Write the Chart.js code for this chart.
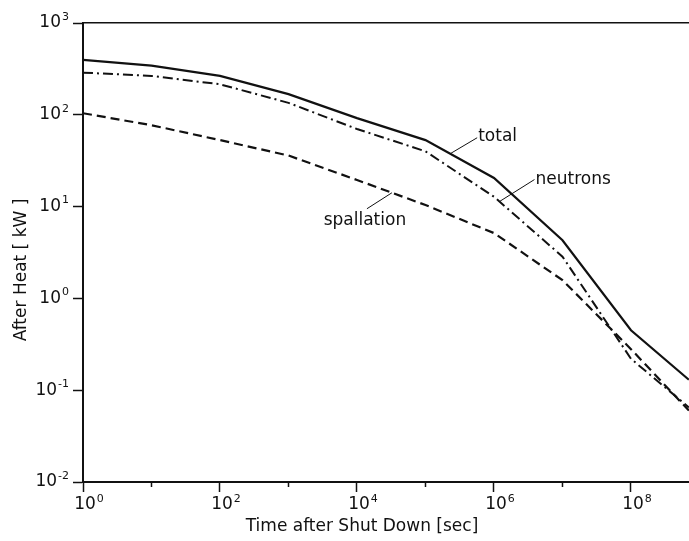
<!DOCTYPE html>
<html>
<head>
<meta charset="utf-8">
<script src="https://cdn.jsdelivr.net/npm/chart.js@4/dist/chart.umd.min.js"></script>
<style>
  html, body { margin: 0; padding: 0; background: #fff; }
  #wrap { width: 689px; height: 541px; }
</style>
</head>
<body>
<div id="wrap"><canvas id="c" width="689" height="541"></canvas></div>
<script>
// time after shut down [sec]
const times = [1, 10, 100, 1e3, 1e4, 1e5, 1e6, 1e7, 1e8, 7e8]
// after heat [kW]
const total = [396, 343, 265, 168, 92, 53, 20.5, 4.3, 0.45, 0.13]
const neutrons = [288, 265, 215, 135, 70, 40, 12.8, 2.85, 0.22, 0.065]
const spallation = [104, 77, 53, 36, 19.5, 10.4, 5.15, 1.58, 0.28, 0.06]

const xDecades = [0, 2, 4, 6, 8]
const xMinorDecades = [1, 3, 5, 7]
const yDecades = [-2, -1, 0, 1, 2, 3]

const FONT = '"DejaVu Sans", sans-serif'
const INK = '#111'

function pts(ys) {
    return times.map((t, i) => ({ x: t, y: ys[i] }))
}

// curve labels: [series index, x on curve, leader dx, leader dy, text dx, text dy, align, text]
const curveLabels = [
    [0, 10 ** 5.36, 27, -16, 28, -17, 'left', 'total'],
    [1, 10 ** 6.08, 35, -22, 36, -22, 'left', 'neutrons'],
    [2, 10 ** 4.51, -25, 16, -27, 28, 'center', 'spallation']
]

function yOnCurve(ys, xv) {
    const lx = Math.log10(xv)
    for (let i = 0; i < times.length - 1; i++) {
        const a = Math.log10(times[i]), b = Math.log10(times[i + 1])
        if (lx >= a && lx <= b) {
            const f = (lx - a) / (b - a)
            return 10 ** (Math.log10(ys[i]) + f * (Math.log10(ys[i + 1]) - Math.log10(ys[i])))
        }
    }
    return ys[ys.length - 1]
}

// "10" with a raised exponent; ax = 'right' (y axis) or 'center' (x axis)
function drawPow(ctx, e, px, py, ax) {
    const base = '10', exp = String(e)
    ctx.font = '17px ' + FONT
    const wb = ctx.measureText(base).width
    ctx.font = '11px ' + FONT
    const we = ctx.measureText(exp).width
    let left
    if (ax === 'right') left = px - wb - we - 1
    else left = px - wb / 2 + 2
    ctx.textAlign = 'left'
    ctx.textBaseline = 'middle'
    ctx.font = '17px ' + FONT
    ctx.fillText(base, left, py)
    ctx.font = '11px ' + FONT
    ctx.fillText(exp, left + wb + 1, py - 6)
}

const extras = {
    id: 'extras',
    afterDraw(chart) {
        const { ctx, scales: { x, y } } = chart
        ctx.save()
        ctx.strokeStyle = INK
        ctx.fillStyle = INK
        // minor ticks on odd decades
        ctx.lineWidth = 1.5
        xMinorDecades.forEach(e => {
            const px = x.getPixelForValue(10 ** e)
            ctx.beginPath()
            ctx.moveTo(px, y.bottom)
            ctx.lineTo(px, y.bottom + 5)
            ctx.stroke()
        })
        // tick labels
        xDecades.forEach(e => drawPow(ctx, e, x.getPixelForValue(10 ** e), y.bottom + 23, 'center'))
        yDecades.forEach(e => drawPow(ctx, e, x.left - 14, y.getPixelForValue(10 ** e), 'right'))
        // curve labels with leader lines
        const series = [total, neutrons, spallation]
        ctx.lineWidth = 1
        ctx.font = '17px ' + FONT
        ctx.textBaseline = 'middle'
        curveLabels.forEach(([k, xv, dx, dy, tx, ty, al, txt]) => {
            const px = x.getPixelForValue(xv)
            const py = y.getPixelForValue(yOnCurve(series[k], xv))
            ctx.beginPath()
            ctx.moveTo(px, py)
            ctx.lineTo(px + dx, py + dy)
            ctx.stroke()
            ctx.textAlign = al
            ctx.fillText(txt, px + tx, py + ty)
        })
        // axis titles
        ctx.font = '17px ' + FONT
        ctx.textAlign = 'center'
        ctx.fillText('Time after Shut Down [sec]', 362, 527)
        ctx.translate(22, 270)
        ctx.rotate(-Math.PI / 2)
        ctx.fillText('After Heat [ kW ]', 0, 0)
        ctx.restore()
    }
}

new Chart(document.getElementById('c'), {
    type: 'line',
    data: {
        datasets: [
            { label: 'total', data: pts(total), borderColor: INK, borderWidth: 2.2 },
            { label: 'neutrons', data: pts(neutrons), borderColor: INK, borderWidth: 2, borderDash: [10, 4, 2, 4] },
            { label: 'spallation', data: pts(spallation), borderColor: INK, borderWidth: 2.2, borderDash: [9, 5] }
        ]
    },
    options: {
        responsive: false,
        animation: false,
        layout: { padding: 0 },
        elements: { point: { radius: 0 }, line: { tension: 0 } },
        plugins: { legend: { display: false }, tooltip: { enabled: false } },
        scales: {
            x: {
                type: 'logarithmic',
                position: 'bottom',
                min: 1,
                max: 7.03e8,
                afterBuildTicks: s => { s.ticks = xDecades.map(e => ({ value: 10 ** e })) },
                afterFit: s => { s.height = 59 },
                ticks: { autoSkip: false, maxRotation: 0, color: 'rgba(0,0,0,0)' },
                grid: { drawOnChartArea: false, tickLength: 10, tickWidth: 1.5, tickColor: INK },
                border: { display: true, color: INK, width: 2 }
            },
            top: {
                type: 'linear',
                position: 'top',
                min: 0,
                max: 1,
                afterFit: s => { s.height = 23 },
                ticks: { display: false },
                grid: { display: false },
                border: { display: true, color: INK, width: 1.5 }
            },
            y: {
                type: 'logarithmic',
                position: 'left',
                min: 0.01,
                max: 1000,
                afterBuildTicks: s => { s.ticks = yDecades.map(e => ({ value: 10 ** e })) },
                afterFit: s => { s.width = 83 },
                ticks: { autoSkip: false, color: 'rgba(0,0,0,0)' },
                grid: { drawOnChartArea: false, tickLength: 10, tickWidth: 1.5, tickColor: INK },
                border: { display: true, color: INK, width: 2 }
            }
        }
    },
    plugins: [extras]
})
</script>
</body>
</html>
